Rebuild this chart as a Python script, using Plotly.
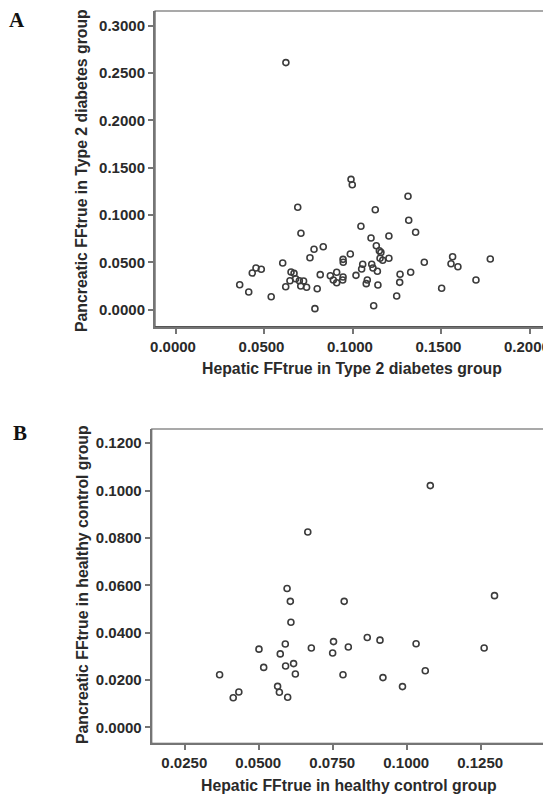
import plotly.graph_objects as go

# Panel A: Type 2 diabetes group
a_hepatic = [0.0621, 0.0989, 0.0996, 0.0688, 0.1126, 0.0706, 0.1045, 0.1102, 0.1132, 0.1149,
             0.1158, 0.0780, 0.0832, 0.0757, 0.0985, 0.0944, 0.0945, 0.0603, 0.1055, 0.1049,
             0.1106, 0.1113, 0.1138, 0.0452, 0.0482, 0.0431, 0.0650, 0.0667, 0.0815, 0.0908,
             0.0872, 0.1017, 0.0944, 0.0942, 0.0644, 0.0676, 0.0697, 0.0721, 0.0889, 0.0908,
             0.1081, 0.1075, 0.1141, 0.0360, 0.0411, 0.0620, 0.0705, 0.0738, 0.0798, 0.0538,
             0.0785, 0.1117, 0.1311, 0.1315, 0.1354, 0.1203, 0.1153, 0.1168, 0.1203, 0.1403,
             0.1563, 0.1554, 0.1593, 0.1776, 0.1266, 0.1264, 0.1326, 0.1695, 0.1501, 0.1247]
a_pancreatic = [0.2610, 0.1377, 0.1320, 0.1082, 0.1056, 0.0807, 0.0881, 0.0757, 0.0676, 0.0623,
                0.0605, 0.0638, 0.0665, 0.0549, 0.0588, 0.0532, 0.0501, 0.0493, 0.0480, 0.0430,
                0.0480, 0.0440, 0.0406, 0.0440, 0.0427, 0.0388, 0.0398, 0.0384, 0.0370, 0.0395,
                0.0359, 0.0363, 0.0345, 0.0314, 0.0306, 0.0327, 0.0306, 0.0303, 0.0314, 0.0285,
                0.0314, 0.0275, 0.0261, 0.0264, 0.0187, 0.0243, 0.0250, 0.0237, 0.0222, 0.0137,
                0.0011, 0.0042, 0.1198, 0.0944, 0.0818, 0.0778, 0.0543, 0.0522, 0.0543, 0.0501,
                0.0560, 0.0486, 0.0454, 0.0536, 0.0374, 0.0289, 0.0395, 0.0314, 0.0226, 0.0145]

# Panel B: healthy control group
b_hepatic = [0.0664, 0.0594, 0.0605, 0.0787, 0.0607, 0.0499, 0.0588, 0.0571, 0.0676, 0.0751,
             0.0748, 0.0801, 0.0865, 0.0908, 0.0515, 0.0589, 0.0616, 0.0622, 0.0366, 0.0783,
             0.0562, 0.0568, 0.0412, 0.0431, 0.0596, 0.1078, 0.1295, 0.1030, 0.1260, 0.1061,
             0.0918, 0.0984]
b_pancreatic = [0.0825, 0.0586, 0.0532, 0.0532, 0.0444, 0.0330, 0.0352, 0.0310, 0.0335, 0.0362,
                0.0314, 0.0339, 0.0379, 0.0368, 0.0253, 0.0259, 0.0269, 0.0225, 0.0222, 0.0222,
                0.0173, 0.0148, 0.0125, 0.0149, 0.0127, 0.1021, 0.0556, 0.0353, 0.0335, 0.0239,
                0.0210, 0.0172]

a_xticks = [0.0, 0.05, 0.10, 0.15, 0.20]
a_yticks = [0.0, 0.05, 0.10, 0.15, 0.20, 0.25, 0.30]
b_xticks = [0.025, 0.05, 0.075, 0.10, 0.125]
b_yticks = [0.0, 0.02, 0.04, 0.06, 0.08, 0.10, 0.12]

a_xtitle = "Hepatic FFtrue in Type 2 diabetes group"
a_ytitle = "Pancreatic FFtrue in Type 2 diabetes group"
b_xtitle = "Hepatic FFtrue in healthy control group"
b_ytitle = "Pancreatic FFtrue in healthy control group"

W, H = 551, 795
OFF = 8  # default page body margin offsets the figure in the window
FONT = "Liberation Sans, Arial, sans-serif"
TXT = "#2a2a2a"

marker = dict(symbol="circle-open", size=6, color="#3c3c3c", line=dict(width=1.6, color="#3c3c3c"))

fig = go.Figure()
fig.add_trace(go.Scatter(x=a_hepatic, y=a_pancreatic, mode="markers", marker=marker,
                         xaxis="x", yaxis="y", showlegend=False, hoverinfo="x+y"))
fig.add_trace(go.Scatter(x=b_hepatic, y=b_pancreatic, mode="markers", marker=marker,
                         xaxis="x2", yaxis="y2", showlegend=False, hoverinfo="x+y"))


def axis(domain, rng, ticks, anchor, shift=0):
    return dict(
        domain=domain, range=rng, anchor=anchor, automargin=False,
        tickvals=ticks, ticktext=["%.4f" % t for t in ticks],
        showline=True, linecolor="#757575", linewidth=2,
        ticks="outside", ticklen=5, tickwidth=1.5, tickcolor="#757575",
        showgrid=False, zeroline=False, ticklabelshift=shift,
        tickfont=dict(family=FONT, size=15, color=TXT, weight="bold"),
    )


# window-pixel geometry -> paper coordinates
a_left, a_right, a_top, a_bot = 155, 548, 11, 326.7
b_left, b_right, b_top, b_bot = 151.7, 545.7, 429, 743.3


def px(x):
    return (x - OFF) / W


def py(y):
    return 1 - (y - OFF) / H


def title_ann(text, x, y, angle=0):
    return dict(text="<b>" + text + "</b>", x=px(x), y=py(y), xref="paper", yref="paper",
                showarrow=False, xanchor="center", yanchor="middle", textangle=angle,
                font=dict(family=FONT, size=15.8, color=TXT))


fig.update_layout(
    width=W, height=H,
    margin=dict(l=0, r=0, t=0, b=0, autoexpand=False),
    paper_bgcolor="white", plot_bgcolor="white",
    xaxis=axis([px(a_left), px(a_right)], [-0.01186, 0.2102], a_xticks, "y", -3),
    yaxis=axis([py(a_bot), py(a_top)], [-0.01796, 0.3155], a_yticks, "x"),
    xaxis2=axis([px(b_left), px(b_right)], [0.01365, 0.1468], b_xticks, "y2", -1),
    yaxis2=axis([py(b_bot), py(b_top)], [-0.00676, 0.1260], b_yticks, "x2"),
    shapes=[
        dict(type="rect", xref="paper", yref="paper",
             x0=px(a_left), x1=px(a_right), y0=py(a_bot), y1=py(a_top),
             line=dict(color="#555555", width=1.2), fillcolor="rgba(0,0,0,0)", layer="below"),
        dict(type="rect", xref="paper", yref="paper",
             x0=px(b_left), x1=px(b_right), y0=py(b_bot), y1=py(b_top),
             line=dict(color="#555555", width=1.2), fillcolor="rgba(0,0,0,0)", layer="below"),
    ],
    annotations=[
        dict(text="<b>A</b>", x=px(16.5), y=py(20.5), xref="paper", yref="paper",
             showarrow=False, xanchor="center", yanchor="middle",
             font=dict(family="Liberation Serif, Times New Roman, serif", size=21, color="#111")),
        dict(text="<b>B</b>", x=px(20), y=py(433), xref="paper", yref="paper",
             showarrow=False, xanchor="center", yanchor="middle",
             font=dict(family="Liberation Serif, Times New Roman, serif", size=21, color="#111")),
        title_ann(a_xtitle, (a_left + a_right) / 2, 368),
        title_ann(a_ytitle, 82, 171, -90),
        title_ann(b_xtitle, (b_left + b_right) / 2, 785),
        title_ann(b_ytitle, 82, 585, -90),
    ],
)

fig.write_html("out.html")
